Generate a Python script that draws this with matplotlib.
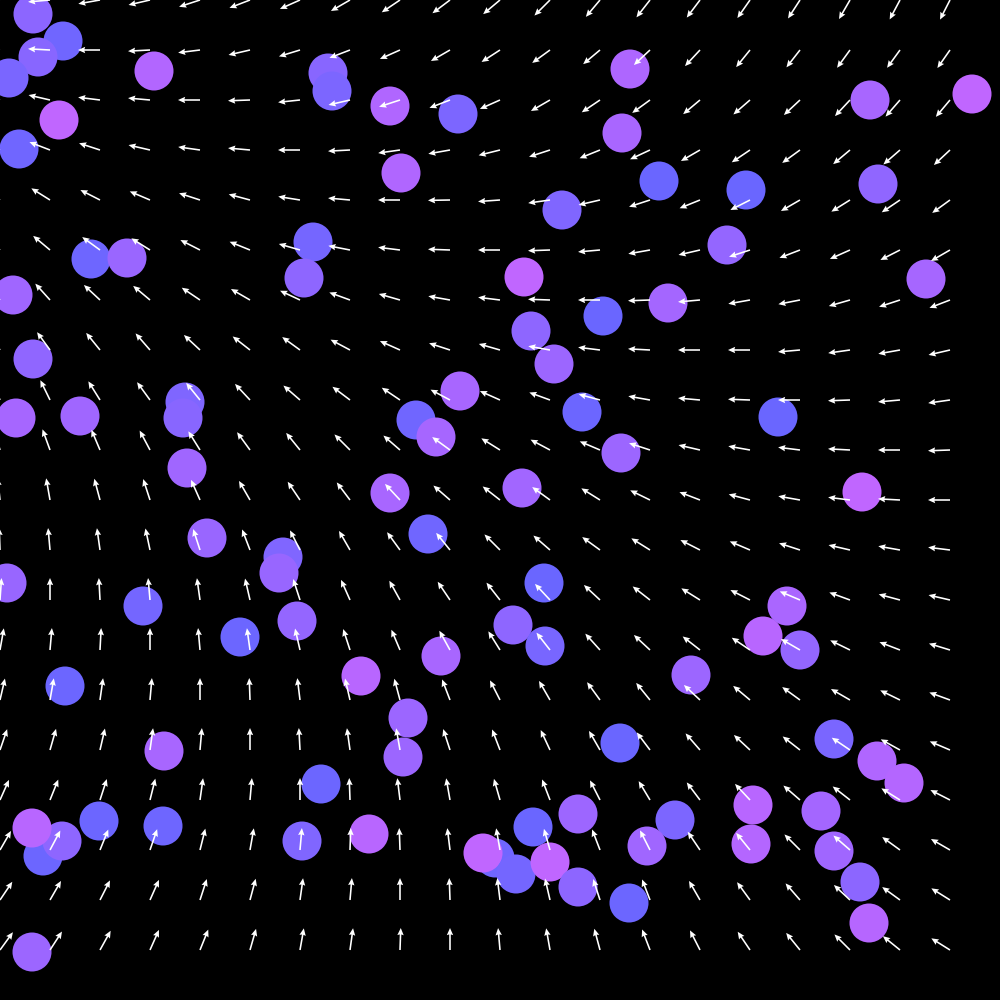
import numpy as np
import matplotlib
matplotlib.use("Agg")
import matplotlib.pyplot as plt

# grid of arrow tails (pixels, y grows downward)
grid_x = [0, 50, 100, 150, 200, 250, 300, 350, 400, 450, 500, 550, 600, 650, 700, 750, 800, 850, 900, 950]
grid_y = [0, 50, 100, 150, 200, 250, 300, 350, 400, 450, 500, 550, 600, 650, 700, 750, 800, 850, 900, 950]

# arrow direction in degrees (0 = right, 90 = up on screen), one row per grid_y
angles = [
    [182, 185, 190, 193, 198, 201, 204, 210, 214, 217, 220, 225, 230, 232, 233, 235, 237, 240, 242, 243],
    [174, 177, 180, 183, 187, 193, 197, 201, 204, 210, 213, 216, 220, 223, 227, 231, 232, 234, 234, 235],
    [163, 167, 173, 175, 180, 182, 186, 193, 198, 201, 204, 210, 214, 216, 220, 221, 223, 227, 229, 230],
    [155, 159, 162, 167, 172, 175, 180, 183, 188, 190, 194, 198, 202, 205, 210, 214, 216, 220, 221, 223],
    [145, 148, 153, 157, 162, 165, 171, 175, 180, 181, 184, 188, 193, 198, 202, 207, 210, 212, 214, 216],
    [137, 140, 144, 148, 153, 158, 164, 169, 173, 178, 180, 182, 185, 190, 193, 198, 201, 204, 207, 210],
    [128, 132, 137, 140, 146, 150, 155, 160, 164, 170, 173, 178, 180, 182, 185, 190, 191, 196, 198, 201],
    [122, 126, 129, 131, 137, 142, 144, 152, 156, 162, 164, 170, 173, 177, 180, 180, 185, 188, 190, 193],
    [112, 116, 122, 126, 129, 133, 139, 143, 146, 152, 156, 160, 165, 170, 175, 178, 180, 182, 185, 188],
    [106, 110, 113, 118, 122, 126, 129, 135, 139, 144, 148, 152, 157, 162, 167, 170, 173, 177, 180, 182],
    [96, 100, 105, 108, 114, 120, 124, 127, 133, 139, 142, 144, 148, 154, 159, 165, 170, 173, 177, 180],
    [92, 95, 98, 102, 108, 111, 117, 120, 126, 129, 135, 139, 144, 148, 153, 157, 162, 167, 170, 173],
    [86, 90, 93, 95, 98, 103, 108, 114, 119, 124, 128, 133, 137, 142, 148, 153, 157, 160, 165, 167],
    [80, 85, 87, 90, 95, 98, 103, 108, 113, 119, 122, 128, 132, 137, 142, 146, 150, 154, 159, 163],
    [77, 80, 82, 85, 90, 92, 97, 103, 105, 111, 117, 120, 126, 129, 137, 140, 144, 150, 154, 160],
    [71, 74, 77, 82, 85, 90, 93, 98, 100, 108, 111, 115, 120, 127, 131, 137, 142, 146, 151, 157],
    [66, 68, 72, 76, 82, 85, 90, 92, 97, 100, 106, 111, 117, 121, 127, 133, 139, 142, 148, 153],
    [60, 62, 68, 71, 76, 80, 85, 88, 92, 97, 100, 106, 111, 117, 124, 129, 135, 139, 144, 150],
    [56, 60, 63, 66, 72, 75, 82, 85, 90, 92, 97, 103, 108, 111, 120, 126, 131, 137, 144, 148],
    [54, 57, 61, 66, 68, 74, 80, 82, 88, 90, 95, 100, 105, 111, 117, 124, 129, 135, 141, 148],
]
arrow_len = 22

# circles (drawn in this order)
circle_x = [33, 63, 38, 9, 154, 328, 332, 390, 458, 59, 19, 630, 622, 401, 659, 746, 870, 972, 878, 562,
            727, 313, 91, 127, 304, 524, 13, 926, 603, 668, 531, 554, 33, 185, 183, 16, 80, 460, 416, 436,
            582, 778, 621, 187, 390, 522, 862, 207, 428, 283, 279, 7, 143, 544, 297, 240, 513, 545, 787, 763,
            800, 361, 441, 691, 65, 408, 403, 164, 620, 834, 877, 904, 321, 753, 821, 99, 163, 43, 62, 32,
            302, 369, 533, 578, 675, 647, 751, 834, 495, 483, 516, 550, 578, 629, 860, 869, 32]
circle_y = [14, 41, 57, 78, 71, 73, 91, 106, 114, 120, 149, 69, 133, 173, 181, 190, 100, 94, 184, 210,
            245, 242, 259, 258, 278, 277, 295, 279, 316, 303, 331, 364, 359, 402, 418, 418, 416, 391, 420, 437,
            412, 417, 453, 468, 493, 488, 492, 538, 534, 557, 573, 583, 606, 583, 621, 637, 625, 646, 606, 636,
            650, 676, 656, 675, 686, 718, 757, 751, 743, 739, 761, 783, 784, 805, 811, 821, 826, 856, 841, 828,
            841, 834, 827, 814, 820, 846, 844, 851, 858, 853, 874, 862, 887, 903, 882, 923, 952]
circle_colors = ['#8c66ff', '#7066ff', '#8866ff', '#7a66ff', '#b266ff', '#8866ff', '#7c66ff', '#b066ff', '#7c66ff', '#c066ff',
                 '#7066ff', '#ae66ff', '#a966ff', '#b066ff', '#6a66ff', '#6a66ff', '#a866ff', '#c066ff', '#9066ff', '#8066ff',
                 '#9466ff', '#7566ff', '#6e66ff', '#9a66ff', '#8e66ff', '#c066ff', '#a066ff', '#a666ff', '#6a66ff', '#a466ff',
                 '#8e66ff', '#9c66ff', '#9066ff', '#7f66ff', '#8866ff', '#a666ff', '#a066ff', '#a866ff', '#7066ff', '#a666ff',
                 '#6c66ff', '#6a66ff', '#9c66ff', '#a066ff', '#a866ff', '#a266ff', '#c066ff', '#9966ff', '#7066ff', '#8066ff',
                 '#9866ff', '#9866ff', '#7466ff', '#6a66ff', '#9466ff', '#6c66ff', '#8e66ff', '#7866ff', '#aa66ff', '#b866ff',
                 '#9466ff', '#b866ff', '#a866ff', '#9c66ff', '#6c66ff', '#9c66ff', '#9c66ff', '#a866ff', '#6a66ff', '#7a66ff',
                 '#b066ff', '#b466ff', '#6c66ff', '#b866ff', '#a466ff', '#6c66ff', '#6e66ff', '#6c66ff', '#8e66ff', '#b866ff',
                 '#8066ff', '#b866ff', '#6a66ff', '#9d66ff', '#7c66ff', '#a066ff', '#b466ff', '#a066ff', '#7066ff', '#c066ff',
                 '#7466ff', '#c066ff', '#8d66ff', '#6c66ff', '#8c66ff', '#b666ff', '#9c66ff']
circle_radius = 19.5

fig = plt.figure(figsize=(10, 10), dpi=100, facecolor='black')
ax = fig.add_axes([0, 0, 1, 1])
ax.set_facecolor('black')
ax.set_xlim(0, 1000)
ax.set_ylim(1000, 0)
ax.axis('off')

# circles
for x, y, c in zip(circle_x, circle_y, circle_colors):
    ax.add_patch(plt.Circle((x, y), circle_radius, color=c, lw=0, zorder=2))

# vector field
X, Y = np.meshgrid(grid_x, grid_y)
theta = np.radians(np.array(angles, dtype=float))
U = arrow_len * np.cos(theta)
V = -arrow_len * np.sin(theta)  # screen y points down
ax.quiver(X, Y, U, V, angles='xy', scale_units='xy', scale=1, color='white',
          width=0.0016, headwidth=4, headlength=4.5, headaxislength=4, zorder=3)

fig.savefig('out.png', facecolor='black')
